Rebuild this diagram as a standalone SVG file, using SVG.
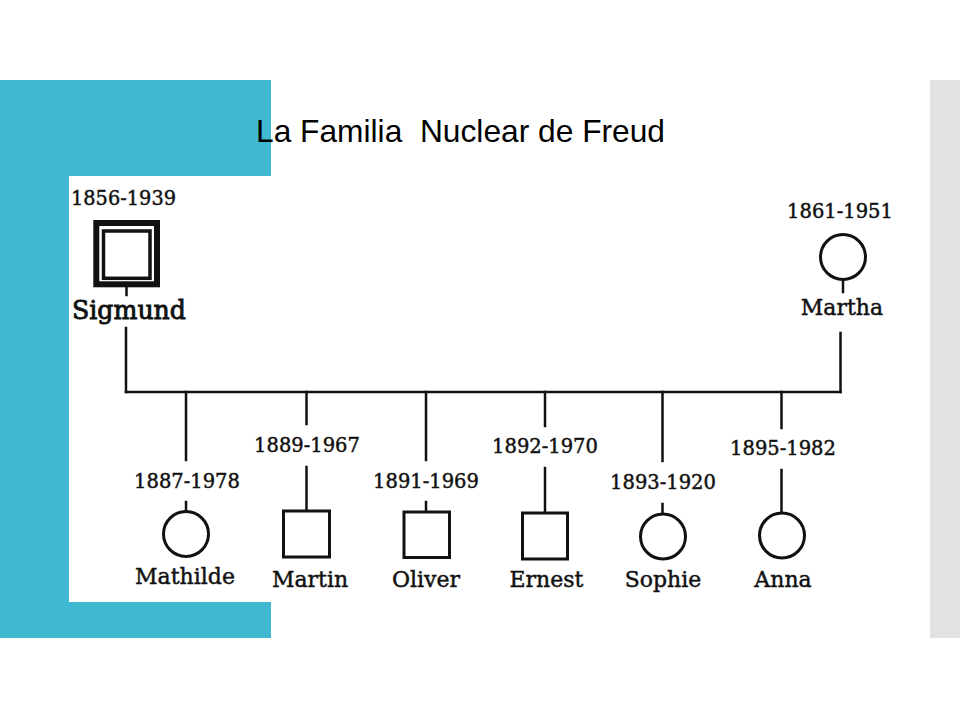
<svg xmlns="http://www.w3.org/2000/svg" width="960" height="720" viewBox="0 0 960 720">
<style>
.yr{font-family:"DejaVu Serif","Liberation Serif",serif;font-size:19.5px;fill:#111;stroke:#111;stroke-width:0.45;text-anchor:middle}
.nm{font-family:"DejaVu Serif","Liberation Serif",serif;font-size:22px;fill:#111;stroke:#111;stroke-width:0.45;text-anchor:middle}
.ln{stroke:#111;stroke-width:2.5;fill:none;stroke-linecap:square}
.sh{stroke:#111;stroke-width:3;fill:#fff}
.title{font-family:"Liberation Sans",Arial,sans-serif;font-size:31.5px;fill:#000}
</style>
<rect x="0" y="0" width="960" height="720" fill="#fff"/>
<rect x="0" y="80" width="271" height="558" fill="#40b8d1"/>
<rect x="930" y="80" width="30" height="558" fill="#e2e2e2"/>
<rect x="69" y="176" width="840" height="426" fill="#fff"/>
<text class="title" x="256" y="141.5" textLength="409" lengthAdjust="spacingAndGlyphs" xml:space="preserve">La Familia  Nuclear de Freud</text>
<g id="connectors">
<line class="ln" x1="126.5" y1="288" x2="126.5" y2="295"/>
<line class="ln" x1="126" y1="328" x2="126" y2="392"/>
<line class="ln" x1="843" y1="280" x2="843" y2="292"/>
<line class="ln" x1="840.5" y1="333" x2="840.5" y2="392"/>
<line class="ln" x1="126" y1="392" x2="840.5" y2="392"/>
<line class="ln" x1="186" y1="392" x2="186" y2="460"/>
<line class="ln" x1="186" y1="502" x2="186" y2="510"/>
<line class="ln" x1="306.5" y1="392" x2="306.5" y2="424"/>
<line class="ln" x1="306.5" y1="467" x2="306.5" y2="510"/>
<line class="ln" x1="426" y1="392" x2="426" y2="460"/>
<line class="ln" x1="426" y1="502" x2="426" y2="511"/>
<line class="ln" x1="545" y1="392" x2="545" y2="426"/>
<line class="ln" x1="545" y1="468" x2="545" y2="512"/>
<line class="ln" x1="662.5" y1="392" x2="662.5" y2="461"/>
<line class="ln" x1="662.5" y1="504" x2="662.5" y2="513"/>
<line class="ln" x1="781.5" y1="392" x2="781.5" y2="428"/>
<line class="ln" x1="781.5" y1="470" x2="781.5" y2="512"/>
</g>
<g id="sigmund">
<text class="yr" x="71" y="205" style="text-anchor:start" textLength="105" lengthAdjust="spacingAndGlyphs">1856-1939</text>
<rect x="96.3" y="223" width="60.7" height="61.3" fill="#fff" stroke="#111" stroke-width="6"/>
<rect x="103.5" y="231" width="46.5" height="47.3" fill="#fff" stroke="#111" stroke-width="3.5"/>
<text class="nm" x="72" y="318.5" style="text-anchor:start;font-size:26px;stroke-width:0.9" textLength="114" lengthAdjust="spacingAndGlyphs">Sigmund</text>
</g>
<g id="martha">
<text class="yr" x="840" y="218">1861-1951</text>
<circle class="sh" cx="843" cy="257" r="22.5"/>
<text class="nm" x="842" y="315">Martha</text>
</g>
<g id="mathilde">
<text class="yr" x="187" y="488">1887-1978</text>
<circle class="sh" cx="186" cy="534" r="22.5"/>
<text class="nm" x="185" y="584">Mathilde</text>
</g>
<g id="martin">
<text class="yr" x="307" y="452">1889-1967</text>
<rect class="sh" x="283.5" y="511" width="46" height="46"/>
<text class="nm" x="310" y="587">Martin</text>
</g>
<g id="oliver">
<text class="yr" x="426" y="488">1891-1969</text>
<rect class="sh" x="404" y="512" width="45.5" height="45.5"/>
<text class="nm" x="426" y="586.5">Oliver</text>
</g>
<g id="ernest">
<text class="yr" x="545" y="453">1892-1970</text>
<rect class="sh" x="522.5" y="513" width="45" height="46"/>
<text class="nm" x="546.5" y="587">Ernest</text>
</g>
<g id="sophie">
<text class="yr" x="663" y="488.5">1893-1920</text>
<circle class="sh" cx="663" cy="536.5" r="22.5"/>
<text class="nm" x="663" y="587">Sophie</text>
</g>
<g id="anna">
<text class="yr" x="783" y="455">1895-1982</text>
<circle class="sh" cx="782" cy="535.5" r="22.5"/>
<text class="nm" x="783" y="587">Anna</text>
</g>
</svg>
